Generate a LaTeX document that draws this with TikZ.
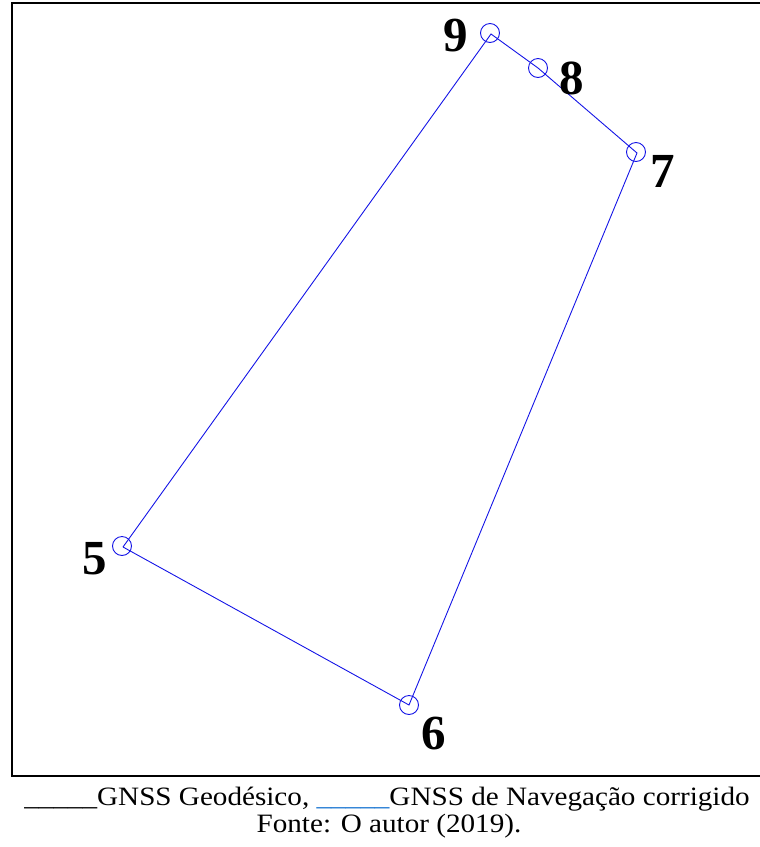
\documentclass[tikz,border=0pt]{standalone}
\usepackage{fontspec}
\setmainfont{Liberation Serif}
\definecolor{ptblue}{RGB}{20,20,230}
\definecolor{legblue}{RGB}{30,120,210}
\begin{document}
\begin{tikzpicture}[x=1pt,y=-1pt,
  pt/.style={circle,draw=ptblue,line width=0.9pt,minimum size=19pt,inner sep=0pt},
  lbl/.style={font=\fontsize{49}{49}\selectfont\bfseries,inner sep=0pt},
  edge/.style={draw=ptblue,line width=0.9pt},
  legend/.style={font=\fontsize{26.5}{30}\selectfont,inner sep=0pt},
  frame/.style={line width=2pt}]
\useasboundingbox (0,0) rectangle (760,847);
\draw[frame] (12,3) -- (770,3);
\draw[frame] (12,2) -- (12,777);
\draw[frame] (12,776) -- (770,776);
\coordinate (c9) at (491,34);
\coordinate (c8) at (538,68);
\coordinate (c7) at (637,153);
\coordinate (c5) at (123,547);
\coordinate (c6) at (409,705);
\node[pt] (p9) at (490,33) {};
\node[pt] (p8) at (538,68) {};
\node[pt] (p7) at (636,152) {};
\node[pt] (p5) at (122,546) {};
\node[pt] (p6) at (409,705) {};
\draw[edge] (c5) -- (c9) -- (c8) -- (c7) -- (c6) -- (c5);
\node[lbl] (l9) at (456,36) {9};
\node[lbl] (l8) at (572,78) {8};
\node[lbl] (l7) at (663,171) {7};
\node[lbl] (l5) at (95,559) {5};
\node[lbl] (l6) at (434,734) {6};
\node[legend,anchor=base] (leg) at (387,805) {\scalebox{1.1}[1]{\_\_\_\_\_GNSS Geodésico, \textcolor{legblue}{\_\_\_\_\_}GNSS de Navegação corrigido}};
\node[legend,anchor=base] (src) at (389,832) {\scalebox{1.1}[1]{Fonte: O autor (2019).}};
\end{tikzpicture}
\end{document}
